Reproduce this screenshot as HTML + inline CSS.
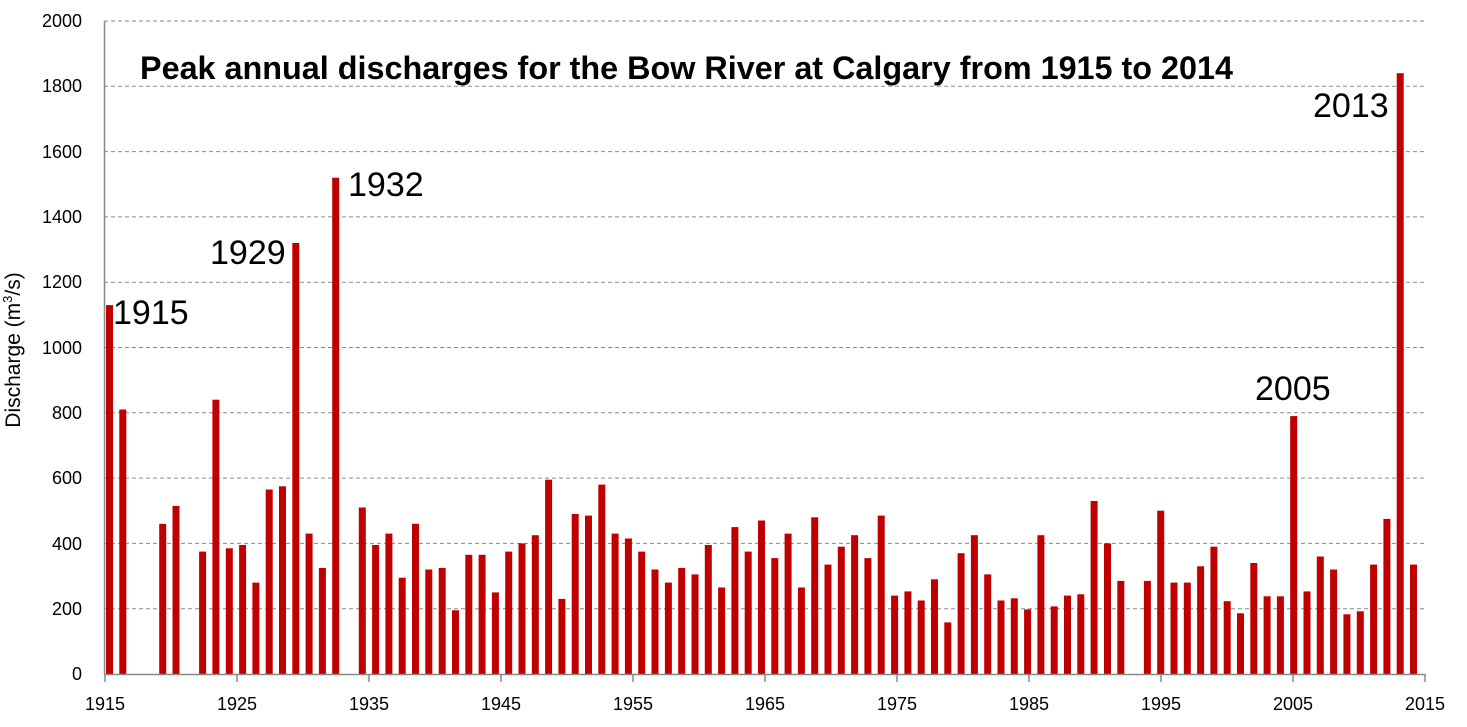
<!DOCTYPE html>
<html><head><meta charset="utf-8"><style>body{margin:0;background:#fff}svg{display:block}</style></head>
<body>
<svg width="1467" height="727" xmlns="http://www.w3.org/2000/svg" font-family="Liberation Sans, sans-serif">
<g stroke="#8a8a8a" stroke-width="1" stroke-dasharray="4,3">
<line x1="104" x2="1425" y1="608.7" y2="608.7"/><line x1="104" x2="1425" y1="543.4" y2="543.4"/>
<line x1="104" x2="1425" y1="478.1" y2="478.1"/><line x1="104" x2="1425" y1="412.8" y2="412.8"/>
<line x1="104" x2="1425" y1="347.5" y2="347.5"/><line x1="104" x2="1425" y1="282.2" y2="282.2"/>
<line x1="104" x2="1425" y1="216.9" y2="216.9"/><line x1="104" x2="1425" y1="151.6" y2="151.6"/>
<line x1="104" x2="1425" y1="86.3" y2="86.3"/><line x1="104" x2="1425" y1="21" y2="21"/>
</g>
<g fill="#c00000">
<rect x="106" y="305.1" width="7" height="368.9"/>
<rect x="119.3" y="409.5" width="7" height="264.5"/>
<rect x="159.2" y="523.8" width="7" height="150.2"/>
<rect x="172.5" y="505.9" width="7" height="168.1"/>
<rect x="199.1" y="551.6" width="7" height="122.4"/>
<rect x="212.4" y="399.7" width="7" height="274.3"/>
<rect x="225.8" y="548.3" width="7" height="125.7"/>
<rect x="239.1" y="545" width="7" height="129"/>
<rect x="252.4" y="582.6" width="7" height="91.4"/>
<rect x="265.7" y="489.5" width="7" height="184.5"/>
<rect x="279" y="486.3" width="7" height="187.7"/>
<rect x="292.3" y="243" width="7" height="431"/>
<rect x="305.6" y="533.6" width="7" height="140.4"/>
<rect x="318.9" y="567.9" width="7" height="106.1"/>
<rect x="332.2" y="177.7" width="7" height="496.3"/>
<rect x="358.8" y="507.5" width="7" height="166.5"/>
<rect x="372.1" y="545" width="7" height="129"/>
<rect x="385.4" y="533.6" width="7" height="140.4"/>
<rect x="398.7" y="577.7" width="7" height="96.3"/>
<rect x="412" y="523.8" width="7" height="150.2"/>
<rect x="425.3" y="569.5" width="7" height="104.5"/>
<rect x="438.7" y="567.9" width="7" height="106.1"/>
<rect x="452" y="610.3" width="7" height="63.7"/>
<rect x="465.3" y="554.8" width="7" height="119.2"/>
<rect x="478.6" y="554.8" width="7" height="119.2"/>
<rect x="491.9" y="592.4" width="7" height="81.6"/>
<rect x="505.2" y="551.6" width="7" height="122.4"/>
<rect x="518.5" y="543.4" width="7" height="130.6"/>
<rect x="531.8" y="535.2" width="7" height="138.8"/>
<rect x="545.1" y="479.7" width="7" height="194.3"/>
<rect x="558.4" y="598.9" width="7" height="75.1"/>
<rect x="571.7" y="514" width="7" height="160"/>
<rect x="585" y="515.6" width="7" height="158.4"/>
<rect x="598.3" y="484.6" width="7" height="189.4"/>
<rect x="611.6" y="533.6" width="7" height="140.4"/>
<rect x="624.9" y="538.5" width="7" height="135.5"/>
<rect x="638.2" y="551.6" width="7" height="122.4"/>
<rect x="651.5" y="569.5" width="7" height="104.5"/>
<rect x="664.9" y="582.6" width="7" height="91.4"/>
<rect x="678.2" y="567.9" width="7" height="106.1"/>
<rect x="691.5" y="574.4" width="7" height="99.6"/>
<rect x="704.8" y="545" width="7" height="129"/>
<rect x="718.1" y="587.5" width="7" height="86.5"/>
<rect x="731.4" y="527.1" width="7" height="146.9"/>
<rect x="744.7" y="551.6" width="7" height="122.4"/>
<rect x="758" y="520.5" width="7" height="153.5"/>
<rect x="771.3" y="558.1" width="7" height="115.9"/>
<rect x="784.6" y="533.6" width="7" height="140.4"/>
<rect x="797.9" y="587.5" width="7" height="86.5"/>
<rect x="811.2" y="517.3" width="7" height="156.7"/>
<rect x="824.5" y="564.6" width="7" height="109.4"/>
<rect x="837.8" y="546.7" width="7" height="127.3"/>
<rect x="851.1" y="535.2" width="7" height="138.8"/>
<rect x="864.4" y="558.1" width="7" height="115.9"/>
<rect x="877.7" y="515.6" width="7" height="158.4"/>
<rect x="891.1" y="595.6" width="7" height="78.4"/>
<rect x="904.4" y="591.4" width="7" height="82.6"/>
<rect x="917.7" y="600.5" width="7" height="73.5"/>
<rect x="931" y="579.3" width="7" height="94.7"/>
<rect x="944.3" y="622.4" width="7" height="51.6"/>
<rect x="957.6" y="553.2" width="7" height="120.8"/>
<rect x="970.9" y="535.2" width="7" height="138.8"/>
<rect x="984.2" y="574.4" width="7" height="99.6"/>
<rect x="997.5" y="600.5" width="7" height="73.5"/>
<rect x="1010.8" y="598.3" width="7" height="75.7"/>
<rect x="1024.1" y="609.4" width="7" height="64.6"/>
<rect x="1037.4" y="535.2" width="7" height="138.8"/>
<rect x="1050.7" y="606.4" width="7" height="67.6"/>
<rect x="1064" y="595.6" width="7" height="78.4"/>
<rect x="1077.3" y="594.3" width="7" height="79.7"/>
<rect x="1090.6" y="501" width="7" height="173"/>
<rect x="1104" y="543.4" width="7" height="130.6"/>
<rect x="1117.3" y="580.9" width="7" height="93.1"/>
<rect x="1143.9" y="580.9" width="7" height="93.1"/>
<rect x="1157.2" y="510.7" width="7" height="163.3"/>
<rect x="1170.5" y="582.6" width="7" height="91.4"/>
<rect x="1183.8" y="582.6" width="7" height="91.4"/>
<rect x="1197.1" y="566.3" width="7" height="107.7"/>
<rect x="1210.4" y="546.7" width="7" height="127.3"/>
<rect x="1223.7" y="601.2" width="7" height="72.8"/>
<rect x="1237" y="613.3" width="7" height="60.7"/>
<rect x="1250.3" y="563" width="7" height="111"/>
<rect x="1263.6" y="596.3" width="7" height="77.7"/>
<rect x="1276.9" y="596.3" width="7" height="77.7"/>
<rect x="1290.2" y="416.1" width="7" height="257.9"/>
<rect x="1303.5" y="591.4" width="7" height="82.6"/>
<rect x="1316.8" y="556.5" width="7" height="117.5"/>
<rect x="1330.1" y="569.5" width="7" height="104.5"/>
<rect x="1343.4" y="614.3" width="7" height="59.7"/>
<rect x="1356.8" y="611.3" width="7" height="62.7"/>
<rect x="1370.1" y="564.6" width="7" height="109.4"/>
<rect x="1383.4" y="518.9" width="7" height="155.1"/>
<rect x="1396.7" y="73.2" width="7" height="600.8"/>
<rect x="1410" y="564.6" width="7" height="109.4"/>
</g>
<g stroke="#888" stroke-width="1.5">
<line x1="104.5" x2="104.5" y1="21" y2="674"/>
<line x1="104" x2="1425" y1="674.5" y2="674.5"/>
<line x1="105" x2="105" y1="674" y2="682"/><line x1="237" x2="237" y1="674" y2="682"/>
<line x1="369" x2="369" y1="674" y2="682"/><line x1="501" x2="501" y1="674" y2="682"/>
<line x1="633" x2="633" y1="674" y2="682"/><line x1="765" x2="765" y1="674" y2="682"/>
<line x1="897" x2="897" y1="674" y2="682"/><line x1="1029" x2="1029" y1="674" y2="682"/>
<line x1="1161" x2="1161" y1="674" y2="682"/><line x1="1293" x2="1293" y1="674" y2="682"/>
<line x1="1425" x2="1425" y1="674" y2="682"/>
</g>
<g font-size="18" fill="#000" text-anchor="end">
<text x="82" y="680">0</text><text x="82" y="615">200</text><text x="82" y="550">400</text>
<text x="82" y="484">600</text><text x="82" y="419">800</text><text x="82" y="354">1000</text>
<text x="82" y="288">1200</text><text x="82" y="223">1400</text><text x="82" y="158">1600</text>
<text x="82" y="92">1800</text><text x="82" y="27">2000</text>
</g>
<g font-size="18" fill="#000" text-anchor="middle">
<text x="105" y="710">1915</text><text x="237" y="710">1925</text><text x="369" y="710">1935</text>
<text x="501" y="710">1945</text><text x="633" y="710">1955</text><text x="765" y="710">1965</text>
<text x="897" y="710">1975</text><text x="1029" y="710">1985</text><text x="1161" y="710">1995</text>
<text x="1293" y="710">2005</text><text x="1425" y="710">2015</text>
</g>
<text x="140" y="79" font-size="32" font-weight="bold" fill="#000" textLength="1093" lengthAdjust="spacingAndGlyphs">Peak annual discharges for the Bow River at Calgary from 1915 to 2014</text>
<g font-size="34" fill="#000">
<text x="113" y="324">1915</text>
<text x="210" y="264">1929</text>
<text x="348" y="196">1932</text>
<text x="1255" y="400">2005</text>
<text x="1313" y="117">2013</text>
</g>
<text transform="translate(20,350) rotate(-90)" text-anchor="middle" font-size="21" fill="#000">Discharge (m<tspan font-size="13" dy="-8">3</tspan><tspan dy="8">/s)</tspan></text>
</svg>
</body></html>
